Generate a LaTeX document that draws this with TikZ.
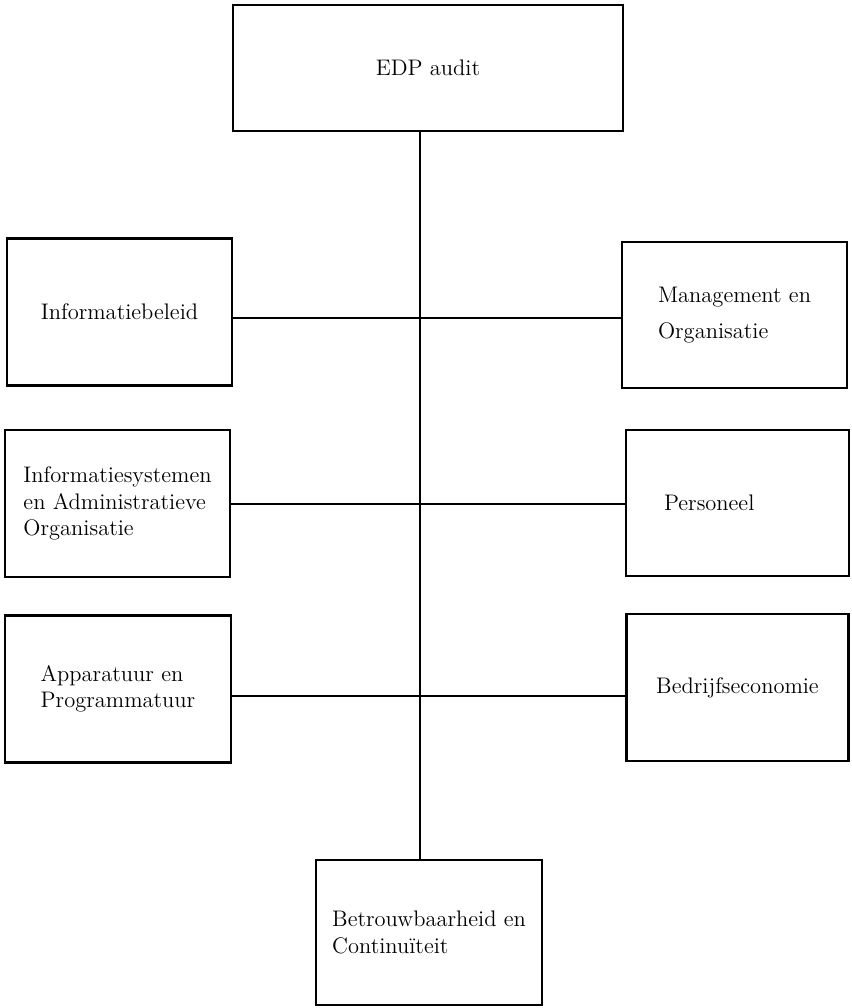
\documentclass[tikz,border=0pt]{standalone}
\usetikzlibrary{calc}
\begin{document}
\begin{tikzpicture}[inner sep=0pt,outer sep=0pt,very thick,
blok/.style={draw,rectangle,minimum width=4.5cm,minimum height=2.94cm,align=left,
  font=\fontsize{12.8}{15}\selectfont, very thick}]
\useasboundingbox (0,0) rectangle (17.02,-20.16);
\coordinate (spine) at (8.4,0);
\coordinate (r1) at (0,-6.36);
\coordinate (r2) at (0,-10.08);
\coordinate (r3) at (0,-13.92);
\draw (8.56,-1.36) node[blok,minimum width=7.8cm,minimum height=2.52cm] (edp) {EDP audit};
% left column
\draw (2.39,-6.24) node[blok] (beleid) {Informatiebeleid};
\draw (2.35,-10.07) node[blok] (infsys) {Informatiesystemen\\en Administratieve\\Organisatie};
\draw (2.36,-13.78) node[blok,minimum width=4.52cm] (appar) {Apparatuur en\\Programmatuur};
% right column
\draw (14.69,-6.30) node[blok,minimum height=2.92cm] (mgmt) {Management en\\[5.5pt]Organisatie};
\draw (14.75,-10.06) node[blok,minimum width=4.46cm,minimum height=2.92cm,inner xsep=0.76cm,text width=2.94cm] (pers) {Personeel};
\draw (14.75,-13.75) node[blok,minimum width=4.44cm] (bedr) {Bedrijfseconomie};
\draw (8.58,-18.65) node[blok,minimum width=4.52cm,minimum height=2.9cm] (betr) {Betrouwbaarheid en\\Continuïteit};
\draw (edp.south -| spine) -- (betr.north -| spine);
\draw (beleid.east |- r1) -- (mgmt.west |- r1);
\draw (infsys.east |- r2) -- (pers.west |- r2);
\draw (appar.east |- r3) -- (bedr.west |- r3);
\end{tikzpicture}
\end{document}
